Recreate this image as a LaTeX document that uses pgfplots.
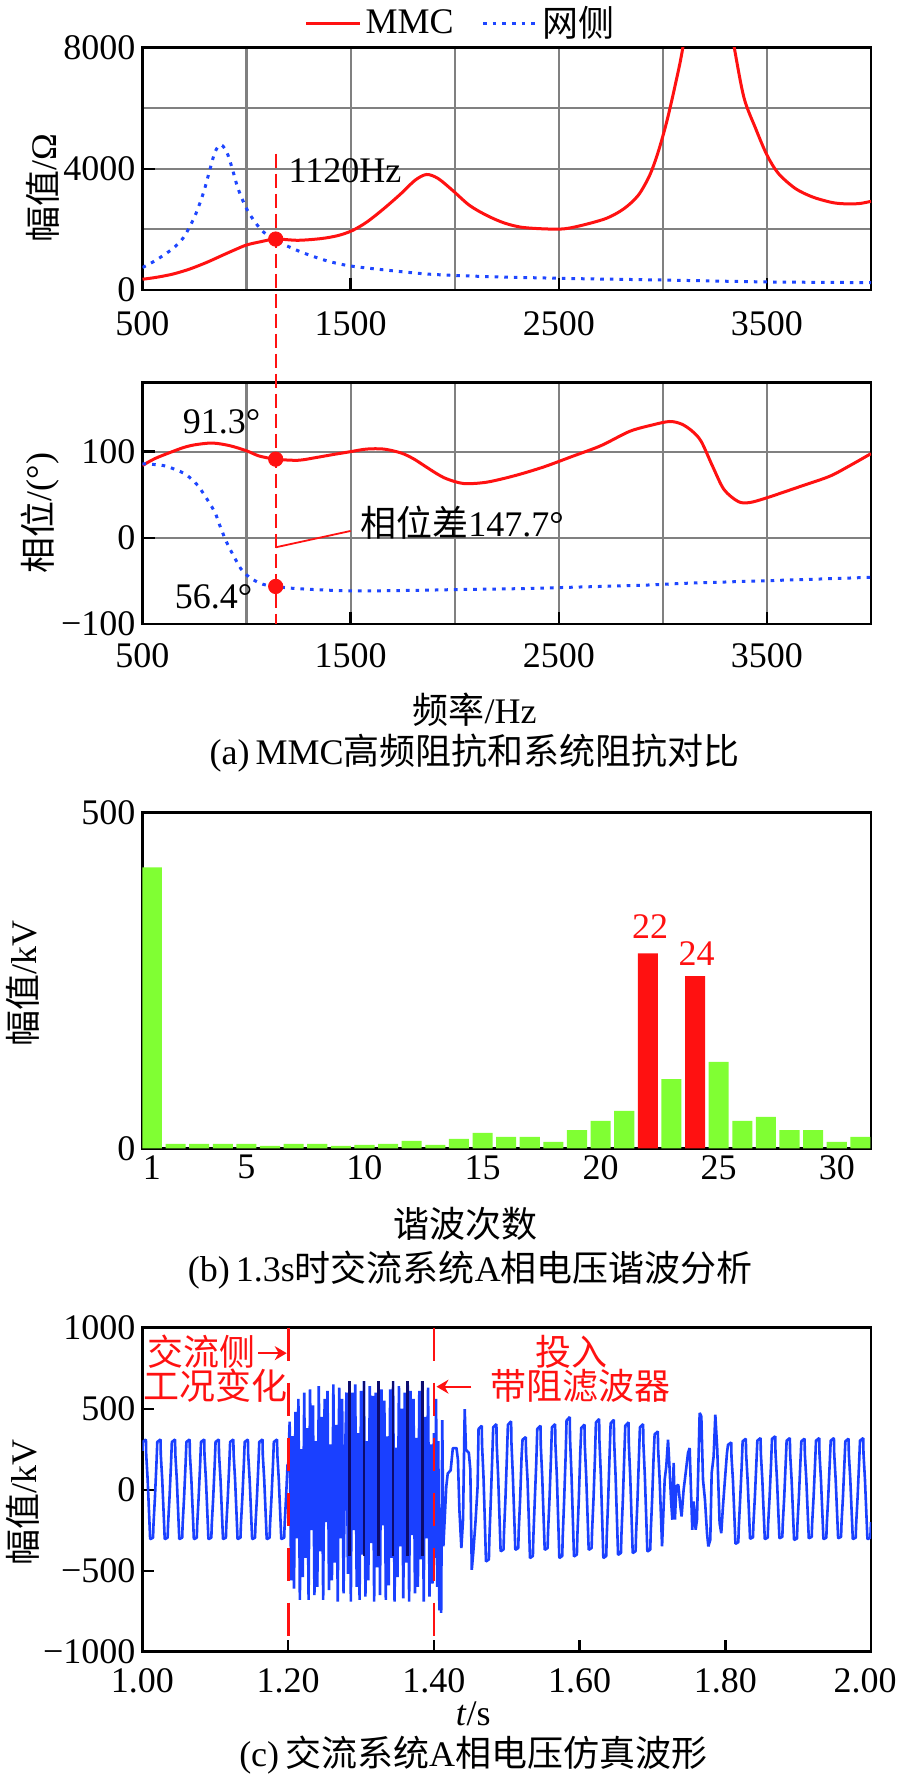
\documentclass[border=0pt]{standalone}
\usepackage{fontspec}
\setmainfont{Liberation Serif}
\newfontfamily\cjk{Noto Sans CJK SC}
\usepackage{pgfplots}
\pgfplotsset{compat=1.18}
\usetikzlibrary{arrows.meta}

\definecolor{mmcred}{RGB}{255,17,17}
\definecolor{netblue}{RGB}{30,70,255}
\definecolor{wavblue}{RGB}{26,64,255}
\definecolor{wavnavy}{RGB}{12,12,110}
\definecolor{bargreen}{RGB}{128,255,51}
\definecolor{gridgray}{RGB}{128,128,128}
\newcommand\fs{\fontsize{18}{21.6}\selectfont}

\pgfplotsset{
  base/.style={
    scale only axis, width=364.25pt,
    axis line style={line width=1.4pt},
    tick style={line width=1.2pt, black},
    tick align=inside, major tick length=6pt, minor tick length=0pt,
    xtick pos=bottom, ytick pos=left, scaled ticks=false,
    clip mode=individual,
    major grid style={line width=1.1pt, gridgray},
    minor grid style={line width=1.1pt, gridgray},
  },
}

\begin{document}
\begin{tikzpicture}[every node/.append style={font=\fs}]
\useasboundingbox (-71.25pt,0pt) rectangle (377.25pt,-887pt);

% (a) amplitude
\begin{axis}[base, at={(0pt,-23.75pt)}, anchor=north west, height=121.25pt,
  xmin=500, xmax=4000, ymin=0, ymax=8000,
  xtick={500,1500,2500,3500}, xticklabels={500,1500,2500,3500},
  minor xtick={1000,2000,3000},
  ytick={0,4000,8000}, yticklabels={0,4000,8000},
  minor ytick={2000,6000}, grid=both,
  xticklabel style={yshift=-7pt},
  legend style={at={(0.438,1.101)}, anchor=center, draw=none, fill=none,
    legend columns=-1, /tikz/every even column/.append style={column sep=12pt}},
  legend image code/.code={\draw[#1] (0pt,0pt) -- (27pt,0pt);},
]
\addplot[mmcred, line width=1.5pt, smooth] coordinates {
(500,355) (560,410) (643,520) (725,687) (808,909) (890,1163) (945,1330)
(1000,1485) (1069,1595) (1140,1680) (1247,1640) (1357,1695) (1439,1795)
(1508,1961) (1577,2238) (1659,2681) (1742,3180) (1810,3623) (1865,3811)
(1920,3679) (1989,3291) (2071,2792) (2154,2460) (2236,2216) (2319,2072)
(2428,2017) (2525,2017) (2621,2150) (2731,2371) (2813,2681) (2882,3125)
(2937,3789) (2978,4565) (3019,5562) (3060,6781) (3096,8000) (3150,10500)
(3215,12000) (3280,10500) (3343,8000) (3390,6338) (3445,5341) (3500,4454)
(3555,3845) (3637,3346) (3719,3069) (3802,2903) (3857,2848) (3939,2848)
(4000,2925)};
\addlegendentry{MMC}
\addplot[netblue, line width=1.5pt, dash pattern=on 1.8pt off 3pt, smooth] coordinates {
(500,742) (560,964) (643,1352) (698,1740) (753,2460) (794,3235) (821,3900)
(849,4565) (876,4787) (904,4565) (931,4011) (959,3346) (1000,2681)
(1041,2238) (1082,1906) (1140,1680) (1192,1463) (1275,1219) (1385,964)
(1494,798) (1659,665) (1879,521) (2154,443) (2566,377) (2978,332)
(3500,266) (4000,244)};
\addlegendentry{{\cjk 网侧}}
\addplot[only marks, mark=*, mark size=3.6pt, mmcred, forget plot] coordinates {(1140,1680)};
\coordinate (dtop) at (axis cs:1140,4500);
\coordinate (yl1) at (rel axis cs:0,0.42);
\node[anchor=west, inner sep=0pt] at (axis cs:1200,3950) {1120Hz};
\end{axis}

% (a) phase
\begin{axis}[base, at={(0pt,-191.35pt)}, anchor=north west, height=120.65pt,
  xmin=500, xmax=4000, ymin=-100, ymax=180,
  xtick={500,1500,2500,3500}, xticklabels={500,1500,2500,3500},
  minor xtick={1000,2000,3000},
  ytick={-100,0,100}, yticklabels={−100,0,100}, grid=both,
  xticklabel style={yshift=-6pt},
]
\addplot[mmcred, line width=1.5pt, smooth] coordinates {
(500,84) (560,92) (643,100) (700,105) (753,108) (835,110) (918,107)
(1000,101) (1060,95) (1140,91.3) (1247,90) (1330,93) (1412,96.5)
(1500,100) (1577,103) (1659,103) (1742,98.5) (1800,92) (1852,84)
(1910,75) (1961,68.5) (2044,63) (2154,64.6) (2291,72.3) (2428,82.3)
(2566,94.6) (2703,107) (2840,123.5) (2950,131) (3033,135) (3090,132)
(3140,124) (3184,112) (3239,83) (3294,56) (3363,42) (3418,41)
(3500,46.5) (3665,60) (3802,71.5) (3900,84) (4000,97.7)};
\addplot[netblue, line width=1.5pt, dash pattern=on 1.8pt off 3pt, smooth] coordinates {
(500,86) (560,85) (615,83) (698,75) (750,65) (780,56) (815,43) (849,29)
(875,12) (904,-5) (940,-22) (973,-36) (1000,-43) (1027,-48) (1080,-54)
(1140,-56.4) (1247,-59) (1494,-61.5) (1800,-61) (2016,-60) (2300,-59)
(2566,-57.3) (2900,-55) (3115,-52.7) (3400,-50.5) (3665,-48.5) (4000,-45.8)};
\addplot[only marks, mark=*, mark size=3.6pt, mmcred] coordinates {(1140,91.3) (1140,-56.4)};
\draw[mmcred, line width=0.9pt] (axis cs:1140,-11) -- (axis cs:1500,8);
\node at (axis cs:880,135) {91.3°};
\node at (axis cs:842,-68) {56.4°};
\node[anchor=west, inner sep=0pt] at (axis cs:1545,18) {{\cjk 相位差}147.7°};
\coordinate (dbot) at (axis cs:1140,-100);
\coordinate (yl2) at (rel axis cs:0,0.46);
\node[yshift=-43pt] at (rel axis cs:0.456,0) {{\cjk 频率}/Hz};
\node[yshift=-64.5pt] at (rel axis cs:0.456,0) {(a)\,MMC{\cjk 高频阻抗和系统阻抗对比}};
\end{axis}

\draw[mmcred, line width=0.8pt, dash pattern=on 7pt off 3pt] (dtop) -- (dbot);

% (b) harmonics
\begin{axis}[base, at={(0pt,-406.35pt)}, anchor=north west, height=167.8pt,
  xmin=0.6, xmax=31.45, ymin=0, ymax=500,
  xtick={1,5,10,15,20,25,30}, xticklabels={1,5,10,15,20,25,30},
  ytick={0,500}, yticklabels={0,500},
  major tick length=0pt, bar width=0.85,
]
\addplot[ybar, bar shift=0pt, fill=bargreen, draw=none] coordinates {
(1,418.6) (2,6.5) (3,6.5) (4,6.5) (5,6.5) (6,3.5) (7,6.5) (8,6.5) (9,3.5)
(10,5) (11,6.5) (12,11) (13,5) (14,14) (15,23) (16,17) (17,17) (18,9.5)
(19,27) (20,41) (21,55.6) (23,103) (25,128.6) (26,41) (27,46.7) (28,27)
(29,27) (30,9.5) (31,17)};
\addplot[ybar, bar shift=0pt, fill=mmcred, draw=none] coordinates {(22,290.5) (24,256.7)};
\node[text=mmcred] at (axis cs:22.1,330) {22};
\node[text=mmcred] at (axis cs:24.07,290) {24};
\coordinate (yl3) at (rel axis cs:0,0.49);
\node[yshift=-38pt] at (rel axis cs:0.444,0) {{\cjk 谐波次数}};
\node[yshift=-61pt] at (rel axis cs:0.45,0) {(b)\,1.3s{\cjk 时交流系统}A{\cjk 相电压谐波分析}};
\end{axis}

% (c) waveform
\begin{axis}[base, at={(0pt,-663.85pt)}, anchor=north west, height=162pt,
  xmin=1, xmax=2, ymin=-1000, ymax=1000,
  xtick={1,1.2,1.4,1.6,1.8,2}, xticklabels={1.00,1.20,1.40,1.60,1.80,\kern-6pt 2.00},
  ytick={-1000,-500,0,500,1000}, yticklabels={−1000,−500,0,500,1000},
  xticklabel style={yshift=-5pt},
  unbounded coords=jump,
]
\addplot[wavblue, line width=1.3pt, line join=bevel] coordinates {
(1.0000,240)
(1.0003,295) (1.0047,310) (1.0051,217) (1.0071,62) (1.0091,-152) (1.0105,-305) (1.0145,-296) (1.0151,-214) (1.0171,-46) (1.0191,155)
(1.0203,295) (1.0247,310) (1.0251,217) (1.0271,62) (1.0291,-152) (1.0305,-305) (1.0345,-296) (1.0351,-214) (1.0371,-46) (1.0391,155)
(1.0403,295) (1.0447,310) (1.0451,217) (1.0471,62) (1.0491,-152) (1.0505,-305) (1.0545,-296) (1.0551,-214) (1.0571,-46) (1.0591,155)
(1.0603,295) (1.0647,310) (1.0651,217) (1.0671,62) (1.0691,-152) (1.0705,-305) (1.0745,-296) (1.0751,-214) (1.0771,-46) (1.0791,155)
(1.0803,295) (1.0847,310) (1.0851,217) (1.0871,62) (1.0891,-152) (1.0905,-305) (1.0945,-296) (1.0951,-214) (1.0971,-46) (1.0991,155)
(1.1003,295) (1.1047,310) (1.1051,217) (1.1071,62) (1.1091,-152) (1.1105,-305) (1.1145,-296) (1.1151,-214) (1.1171,-46) (1.1191,155)
(1.1203,295) (1.1247,310) (1.1251,217) (1.1271,62) (1.1291,-152) (1.1305,-305) (1.1345,-296) (1.1351,-214) (1.1371,-46) (1.1391,155)
(1.1403,295) (1.1447,310) (1.1451,217) (1.1471,62) (1.1491,-152) (1.1505,-305) (1.1545,-296) (1.1551,-214) (1.1571,-46) (1.1591,155)
(1.1603,295) (1.1647,310) (1.1651,217) (1.1671,62) (1.1691,-152) (1.1705,-305) (1.1745,-296) (1.1751,-214) (1.1771,-46) (1.1791,155)
(1.1803,295) (1.1847,310) (1.1851,217) (1.1871,62) (1.1891,-152) (1.1905,-305) (1.1945,-296) (1.1951,-214) (1.1971,-46) (1.1991,155)
(1.200,150) (1.202,420) (1.204,-560) (1.206,330) (1.208,-610) (1.210,480) (1.212,-300) (1.214,560) (1.216,-680) (1.218,250)
(1.220,-540) (1.222,600) (1.224,-420) (1.226,380) (1.228,-680) (1.230,620) (1.232,-250) (1.234,520) (1.236,-650) (1.238,300)
(1.240,-600) (1.242,640) (1.244,-380) (1.246,450) (1.248,-680) (1.250,560) (1.252,-200) (1.254,610) (1.256,-620) (1.258,280)
(1.260,-560) (1.262,650) (1.264,-450) (1.266,400) (1.268,-690) (1.270,630) (1.272,-300) (1.274,560) (1.276,-640) (1.278,200)
(1.280,600) (1.282,-520) (1.284,670) (1.286,-690) (1.288,600) (1.290,-250) (1.292,650) (1.294,-600) (1.296,350) (1.298,-680)
(1.300,610) (1.302,-400) (1.304,670) (1.306,-660) (1.308,300) (1.310,-560) (1.312,640) (1.314,-330) (1.316,580) (1.318,-690)
(1.320,600) (1.322,-480) (1.324,670) (1.326,-650) (1.328,620) (1.330,-220) (1.332,550) (1.334,-680) (1.336,330) (1.338,-590)
(1.340,620) (1.342,-420) (1.344,670) (1.346,-690) (1.348,260) (1.350,-540) (1.352,640) (1.354,-350) (1.356,500) (1.358,-670)
(1.360,600) (1.362,-450) (1.364,670) (1.366,-690) (1.368,610) (1.370,-280) (1.372,560) (1.374,-640) (1.376,320) (1.378,-600)
(1.380,610) (1.382,-430) (1.384,670) (1.386,-690) (1.388,450) (1.390,-300) (1.392,630) (1.394,-660) (1.396,280) (1.398,-580)
(1.400,350) (1.4015,-420) (1.4030,560) (1.4045,-600) (1.4060,300) (1.4075,-745) (1.4090,-200) (1.4100,-760) (1.4115,430)
(1.4130,-350) (1.4150,-165) (1.4170,20) (1.4190,100) (1.4230,120) (1.4260,257) (1.4310,257) (1.4330,185) (1.4350,-124)
(1.4377,-360) (1.4400,-185) (1.4423,498) (1.4440,247) (1.4480,227) (1.4500,124) (1.4520,-494) (1.4540,-391) (1.4570,-206) (1.4600,20)
(1.4613,375) (1.4657,395) (1.4661,277) (1.4681,79) (1.4701,-222) (1.4715,-443) (1.4755,-430) (1.4761,-310) (1.4781,-66) (1.4801,198)
(1.4814,385) (1.4858,405) (1.4862,284) (1.4882,81) (1.4902,-190) (1.4916,-380) (1.4956,-369) (1.4962,-266) (1.4982,-57) (1.5002,203)
(1.5016,401) (1.5060,422) (1.5064,295) (1.5084,84) (1.5104,-186) (1.5118,-371) (1.5158,-360) (1.5164,-260) (1.5184,-56) (1.5204,211)
(1.5217,309) (1.5261,325) (1.5265,228) (1.5285,65) (1.5305,-211) (1.5319,-422) (1.5359,-409) (1.5365,-295) (1.5385,-63) (1.5405,163)
(1.5419,375) (1.5463,395) (1.5467,277) (1.5487,79) (1.5507,-186) (1.5521,-371) (1.5561,-360) (1.5567,-260) (1.5587,-56) (1.5607,198)
(1.5620,385) (1.5664,405) (1.5668,284) (1.5688,81) (1.5708,-211) (1.5722,-422) (1.5762,-409) (1.5768,-295) (1.5788,-63) (1.5808,203)
(1.5821,427) (1.5865,449) (1.5869,314) (1.5889,90) (1.5909,-206) (1.5923,-412) (1.5963,-400) (1.5969,-288) (1.5989,-62) (1.6009,225)
(1.6023,382) (1.6067,402) (1.6071,281) (1.6091,80) (1.6111,-186) (1.6125,-371) (1.6165,-360) (1.6171,-260) (1.6191,-56) (1.6211,201)
(1.6224,415) (1.6268,437) (1.6272,306) (1.6292,87) (1.6312,-211) (1.6326,-422) (1.6366,-409) (1.6372,-295) (1.6392,-63) (1.6412,219)
(1.6426,410) (1.6470,432) (1.6474,302) (1.6494,86) (1.6514,-201) (1.6528,-402) (1.6568,-390) (1.6574,-281) (1.6594,-60) (1.6614,216)
(1.6627,395) (1.6671,416) (1.6675,291) (1.6695,83) (1.6715,-196) (1.6729,-391) (1.6769,-379) (1.6775,-274) (1.6795,-59) (1.6815,208)
(1.6828,385) (1.6872,405) (1.6876,284) (1.6896,81) (1.6916,-191) (1.6930,-381) (1.6970,-370) (1.6976,-267) (1.6996,-57) (1.7016,203)
(1.7030,342) (1.7074,360) (1.7078,252) (1.7098,72) (1.7118,-175) (1.7132,-350)
(1.7168,62) (1.7190,144) (1.7214,309) (1.7236,124) (1.7255,-62) (1.7273,-185) (1.7291,165) (1.7309,-185) (1.7328,21) (1.7355,31)
(1.7383,-103) (1.7400,-165) (1.7428,0) (1.7456,103) (1.7488,227) (1.7511,257) (1.7530,-21) (1.7547,-247) (1.7566,-72) (1.7593,-247)
(1.7611,-185) (1.7630,144) (1.7648,474) (1.7671,453) (1.7694,62) (1.7721,-62) (1.7749,-268) (1.7767,-350) (1.7794,-309) (1.7813,103)
(1.7840,206) (1.7863,463) (1.7890,247) (1.7904,41) (1.7922,-206) (1.7945,-268) (1.7968,-103) (1.7995,62) (1.8023,227)
(1.8037,277) (1.8081,292) (1.8085,204) (1.8105,58) (1.8125,-167) (1.8139,-334) (1.8179,-324) (1.8185,-234) (1.8205,-50) (1.8225,146)
(1.8238,299) (1.8282,315) (1.8286,221) (1.8306,63) (1.8326,-152) (1.8340,-303) (1.8380,-294) (1.8386,-212) (1.8406,-45) (1.8426,158)
(1.8440,303) (1.8484,319) (1.8488,223) (1.8508,64) (1.8528,-153) (1.8542,-305) (1.8582,-296) (1.8588,-214) (1.8608,-46) (1.8628,160)
(1.8641,314) (1.8685,330) (1.8689,231) (1.8709,66) (1.8729,-150) (1.8743,-300) (1.8783,-291) (1.8789,-210) (1.8809,-45) (1.8829,165)
(1.8842,303) (1.8886,319) (1.8890,223) (1.8910,64) (1.8930,-155) (1.8944,-310) (1.8984,-301) (1.8990,-217) (1.9010,-47) (1.9030,160)
(1.9044,299) (1.9088,315) (1.9092,221) (1.9112,63) (1.9132,-150) (1.9146,-300) (1.9186,-291) (1.9192,-210) (1.9212,-45) (1.9232,158)
(1.9245,303) (1.9289,319) (1.9293,223) (1.9313,64) (1.9333,-153) (1.9347,-305) (1.9387,-296) (1.9393,-214) (1.9413,-46) (1.9433,160)
(1.9447,303) (1.9491,319) (1.9495,223) (1.9515,64) (1.9535,-150) (1.9549,-300) (1.9589,-291) (1.9595,-210) (1.9615,-45) (1.9635,160)
(1.9648,299) (1.9692,315) (1.9696,221) (1.9716,63) (1.9736,-153) (1.9750,-305) (1.9790,-296) (1.9796,-214) (1.9816,-46) (1.9836,158)
(1.9849,303) (1.9893,319) (1.9897,223) (1.9917,64) (1.9937,-153) (1.9951,-305) (1.9991,-296) (2.0000,-200)};
\addplot[wavnavy, line width=1.3pt] coordinates {
(1.284,670) (1.284,-410) (1.2841,nan) (1.304,670) (1.304,-410) (1.3041,nan)
(1.324,670) (1.324,-410) (1.3241,nan) (1.344,670) (1.344,-410) (1.3441,nan)
(1.364,670) (1.364,-410) (1.3641,nan) (1.384,670) (1.384,-410)};
\draw[mmcred, line width=1.35pt, dash pattern=on 16.5pt off 11pt] (axis cs:1.2,1000) -- (axis cs:1.2,-913);
\draw[mmcred, line width=1.35pt, dash pattern=on 16.5pt off 11pt] (axis cs:1.4,1000) -- (axis cs:1.4,-913);
\node[text=mmcred, anchor=west, inner sep=0pt] at (axis cs:1.006,850) {{\cjk 交流侧}};
\node[text=mmcred, anchor=west, inner sep=0pt] at (axis cs:1.0007,640) {{\cjk 工况变化}};
\draw[mmcred, line width=1pt, -{Stealth[length=6pt,width=7pt]}] (axis cs:1.159,843) -- (axis cs:1.198,843);
\node[text=mmcred] at (axis cs:1.589,852) {{\cjk 投入}};
\node[text=mmcred, anchor=west, inner sep=0pt] at (axis cs:1.4767,640) {{\cjk 带阻滤波器}};
\draw[mmcred, line width=1pt, -{Stealth[length=6pt,width=7pt]}] (axis cs:1.4516,636) -- (axis cs:1.4036,636);
\coordinate (yl4) at (rel axis cs:0,0.46);
\node[yshift=-31pt] at (rel axis cs:0.454,0) {\textit{t}/s};
\node[yshift=-51.5pt] at (rel axis cs:0.454,0) {(c)\,{\cjk 交流系统}A{\cjk 相电压仿真波形}};
\end{axis}

\node[rotate=90] at ([xshift=-50pt]yl1) {{\cjk 幅值}/Ω};
\node[rotate=90] at ([xshift=-51pt]yl2) {{\cjk 相位}/(°)};
\node[rotate=90] at ([xshift=-60pt]yl3) {{\cjk 幅值}/kV};
\node[rotate=90] at ([xshift=-60pt]yl4) {{\cjk 幅值}/kV};
\end{tikzpicture}
\end{document}
